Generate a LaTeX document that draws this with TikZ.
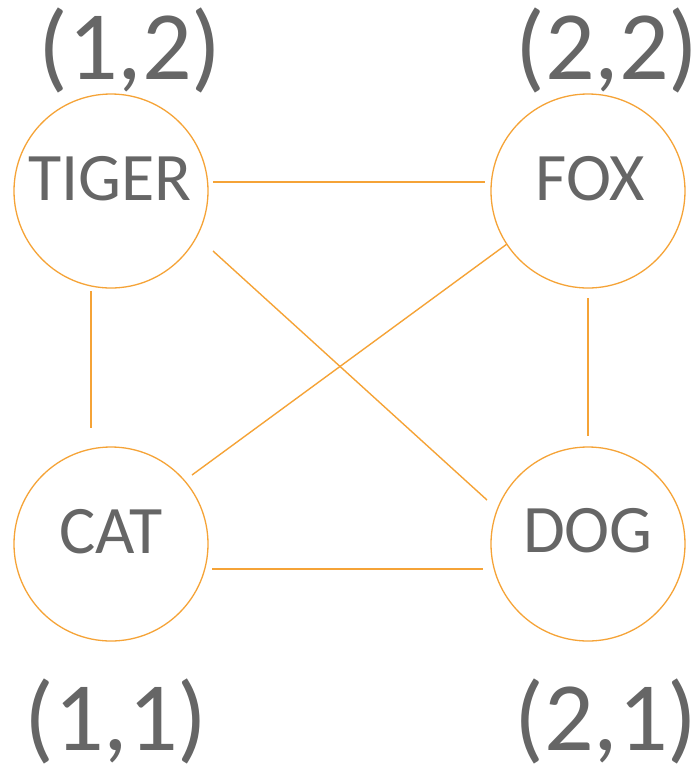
\documentclass[tikz,border=0pt]{standalone}
\usepackage{fontspec}
\setmainfont{Carlito}
\usetikzlibrary{calc}
\definecolor{edgeorange}{RGB}{245,163,55}
\definecolor{textgray}{RGB}{102,102,102}
\tikzset{
  animal/.style={circle, draw=edgeorange, line width=0.65pt, minimum size=97pt, inner sep=0pt},
  animaltext/.style={anchor=base, inner sep=0pt, text=textgray, font=\fontsize{34pt}{40pt}\selectfont},
  coordtext/.style={anchor=base, inner sep=0pt, text=textgray, font=\fontsize{49pt}{58pt}\selectfont},
  link/.style={draw=edgeorange, line width=0.95pt},
  crosslink/.style={draw=edgeorange, line width=0.7pt}
}
\begin{document}
\begin{tikzpicture}[x=0.5pt, y=-0.5pt]
  \useasboundingbox (0,0) rectangle (700,768);

  % circles
  \node[animal] (TIGER) at (111,191) {};
  \node[animal] (FOX)   at (588,191) {};
  \node[animal] (CAT)   at (111,544) {};
  \node[animal] (DOG)   at (588,544) {};

  % names inside the circles
  \node[animaltext] (tigerName) at (110,200) {TIGER};
  \node[animaltext] (foxName)   at (590,200) {FOX};
  \node[animaltext] (catName)   at (111,553) {CAT};
  \node[animaltext] (dogName)   at (588,552) {DOG};

  % grid positions
  \node[coordtext] (tigerPos) at (130,79)  {(1,2)};
  \node[coordtext] (foxPos)   at (607,79)  {(2,2)};
  \node[coordtext] (catPos)   at (116,750) {(1,1)};
  \node[coordtext] (dogPos)   at (606,750) {(2,1)};

  % connections
  \draw[link] ($(TIGER.center)+(102,-9)$) -- ($(FOX.center)+(-103,-9)$);
  \draw[link] ($(TIGER.center)+(-20,100)$) -- ($(CAT.center)+(-20,-116)$);
  \draw[link] ($(FOX.center)+(0,107)$) -- ($(DOG.center)+(0,-108)$);
  \draw[link] ($(CAT.center)+(101,25)$) -- ($(DOG.center)+(-105,25)$);
  \draw[crosslink] ($(TIGER.center)+(102,60)$) -- ($(DOG.center)+(-101,-44)$);
  \draw[crosslink] ($(FOX.center)+(-81,53)$) -- ($(CAT.center)+(81,-69)$);
\end{tikzpicture}
\end{document}
